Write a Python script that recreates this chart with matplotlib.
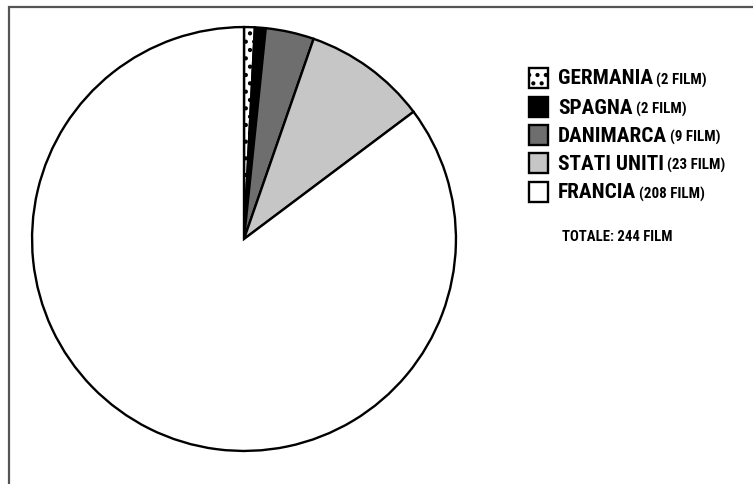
import matplotlib
matplotlib.use("Agg")
import matplotlib.pyplot as plt
from matplotlib.patches import Rectangle
from matplotlib import font_manager

countries = ["GERMANIA", "SPAGNA", "DANIMARCA", "STATI UNITI", "FRANCIA"]
films = [2, 2, 9, 23, 208]
total_label = "TOTALE: 244 FILM"

colors = ["white", "black", "#6e6e6e", "#c6c6c6", "white"]
hatches = ["..", None, None, None, None]

W, H = 753, 484
fig = plt.figure(figsize=(W / 100, H / 100), dpi=100)
fig.patch.set_facecolor("white")

# pick a narrow bold face for the labels when one is available
entries = font_manager.fontManager.ttflist
names = {f.name for f in entries}
family, stretch = "DejaVu Sans", "normal"
for cand in ["Roboto Condensed", "Liberation Sans Narrow", "Open Sans Condensed",
             "DejaVu Sans Condensed"]:
    if cand in names:
        family = cand
        break
else:
    for f in entries:
        if f.name in ("DejaVu Sans", "Noto Sans", "Open Sans", "Roboto") and \
                f.stretch not in ("normal", 500) and "ondensed" in f.fname:
            family, stretch = f.name, "condensed"
            break

plt.rcParams["hatch.linewidth"] = 1.8

# outer frame, running off the right and bottom edges
fig.patches.append(Rectangle((9 / W, -0.05), 1.0, (H - 7) / H + 0.05,
                             transform=fig.transFigure, fill=False,
                             edgecolor="#555555", linewidth=1.6))

# pie axes: centre (244, 239) px from top-left, radius 213 px
cx, cy, r = 244, H - 239, 213
ax = fig.add_axes([(cx - r) / W, (cy - r) / H, 2 * r / W, 2 * r / H])
wedges, _ = ax.pie(films, colors=colors, startangle=90, counterclock=False,
                   radius=1.0,
                   wedgeprops=dict(edgecolor="black", linewidth=1.7))
for w, h in zip(wedges, hatches):
    if h:
        w.set_hatch(h)
ax.set_xlim(-1.005, 1.005)
ax.set_ylim(-1.005, 1.005)
ax.set_aspect("equal")
ax.axis("off")

# legend
row_y = [78, 107, 135, 163, 192]
box = 19
cap = 13
for name, n, c, h, y in zip(countries, films, colors, hatches, row_y):
    rect = Rectangle((529 / W, (H - y - box / 2) / H), box / W, box / H,
                     transform=fig.transFigure, facecolor=c, edgecolor="black",
                     linewidth=1.7, hatch=h)
    fig.patches.append(rect)
    base = (H - y - cap / 2) / H
    t = fig.text(558 / W, base, name, fontsize=15.3, fontweight="bold",
                 family=family, fontstretch=stretch, va="baseline", ha="left")
    fig.canvas.draw()
    bb = t.get_window_extent()
    fig.text((bb.x1 + 3) / W, base, f"({n} FILM)", fontsize=10.8,
             fontweight="bold", family=family, fontstretch=stretch,
             va="baseline", ha="left")

fig.text(562 / W, (H - 237) / H, total_label, fontsize=10.6, fontweight="bold",
         family=family, fontstretch=stretch, va="center", ha="left")

fig.savefig("out.png", dpi=100, facecolor="white")
